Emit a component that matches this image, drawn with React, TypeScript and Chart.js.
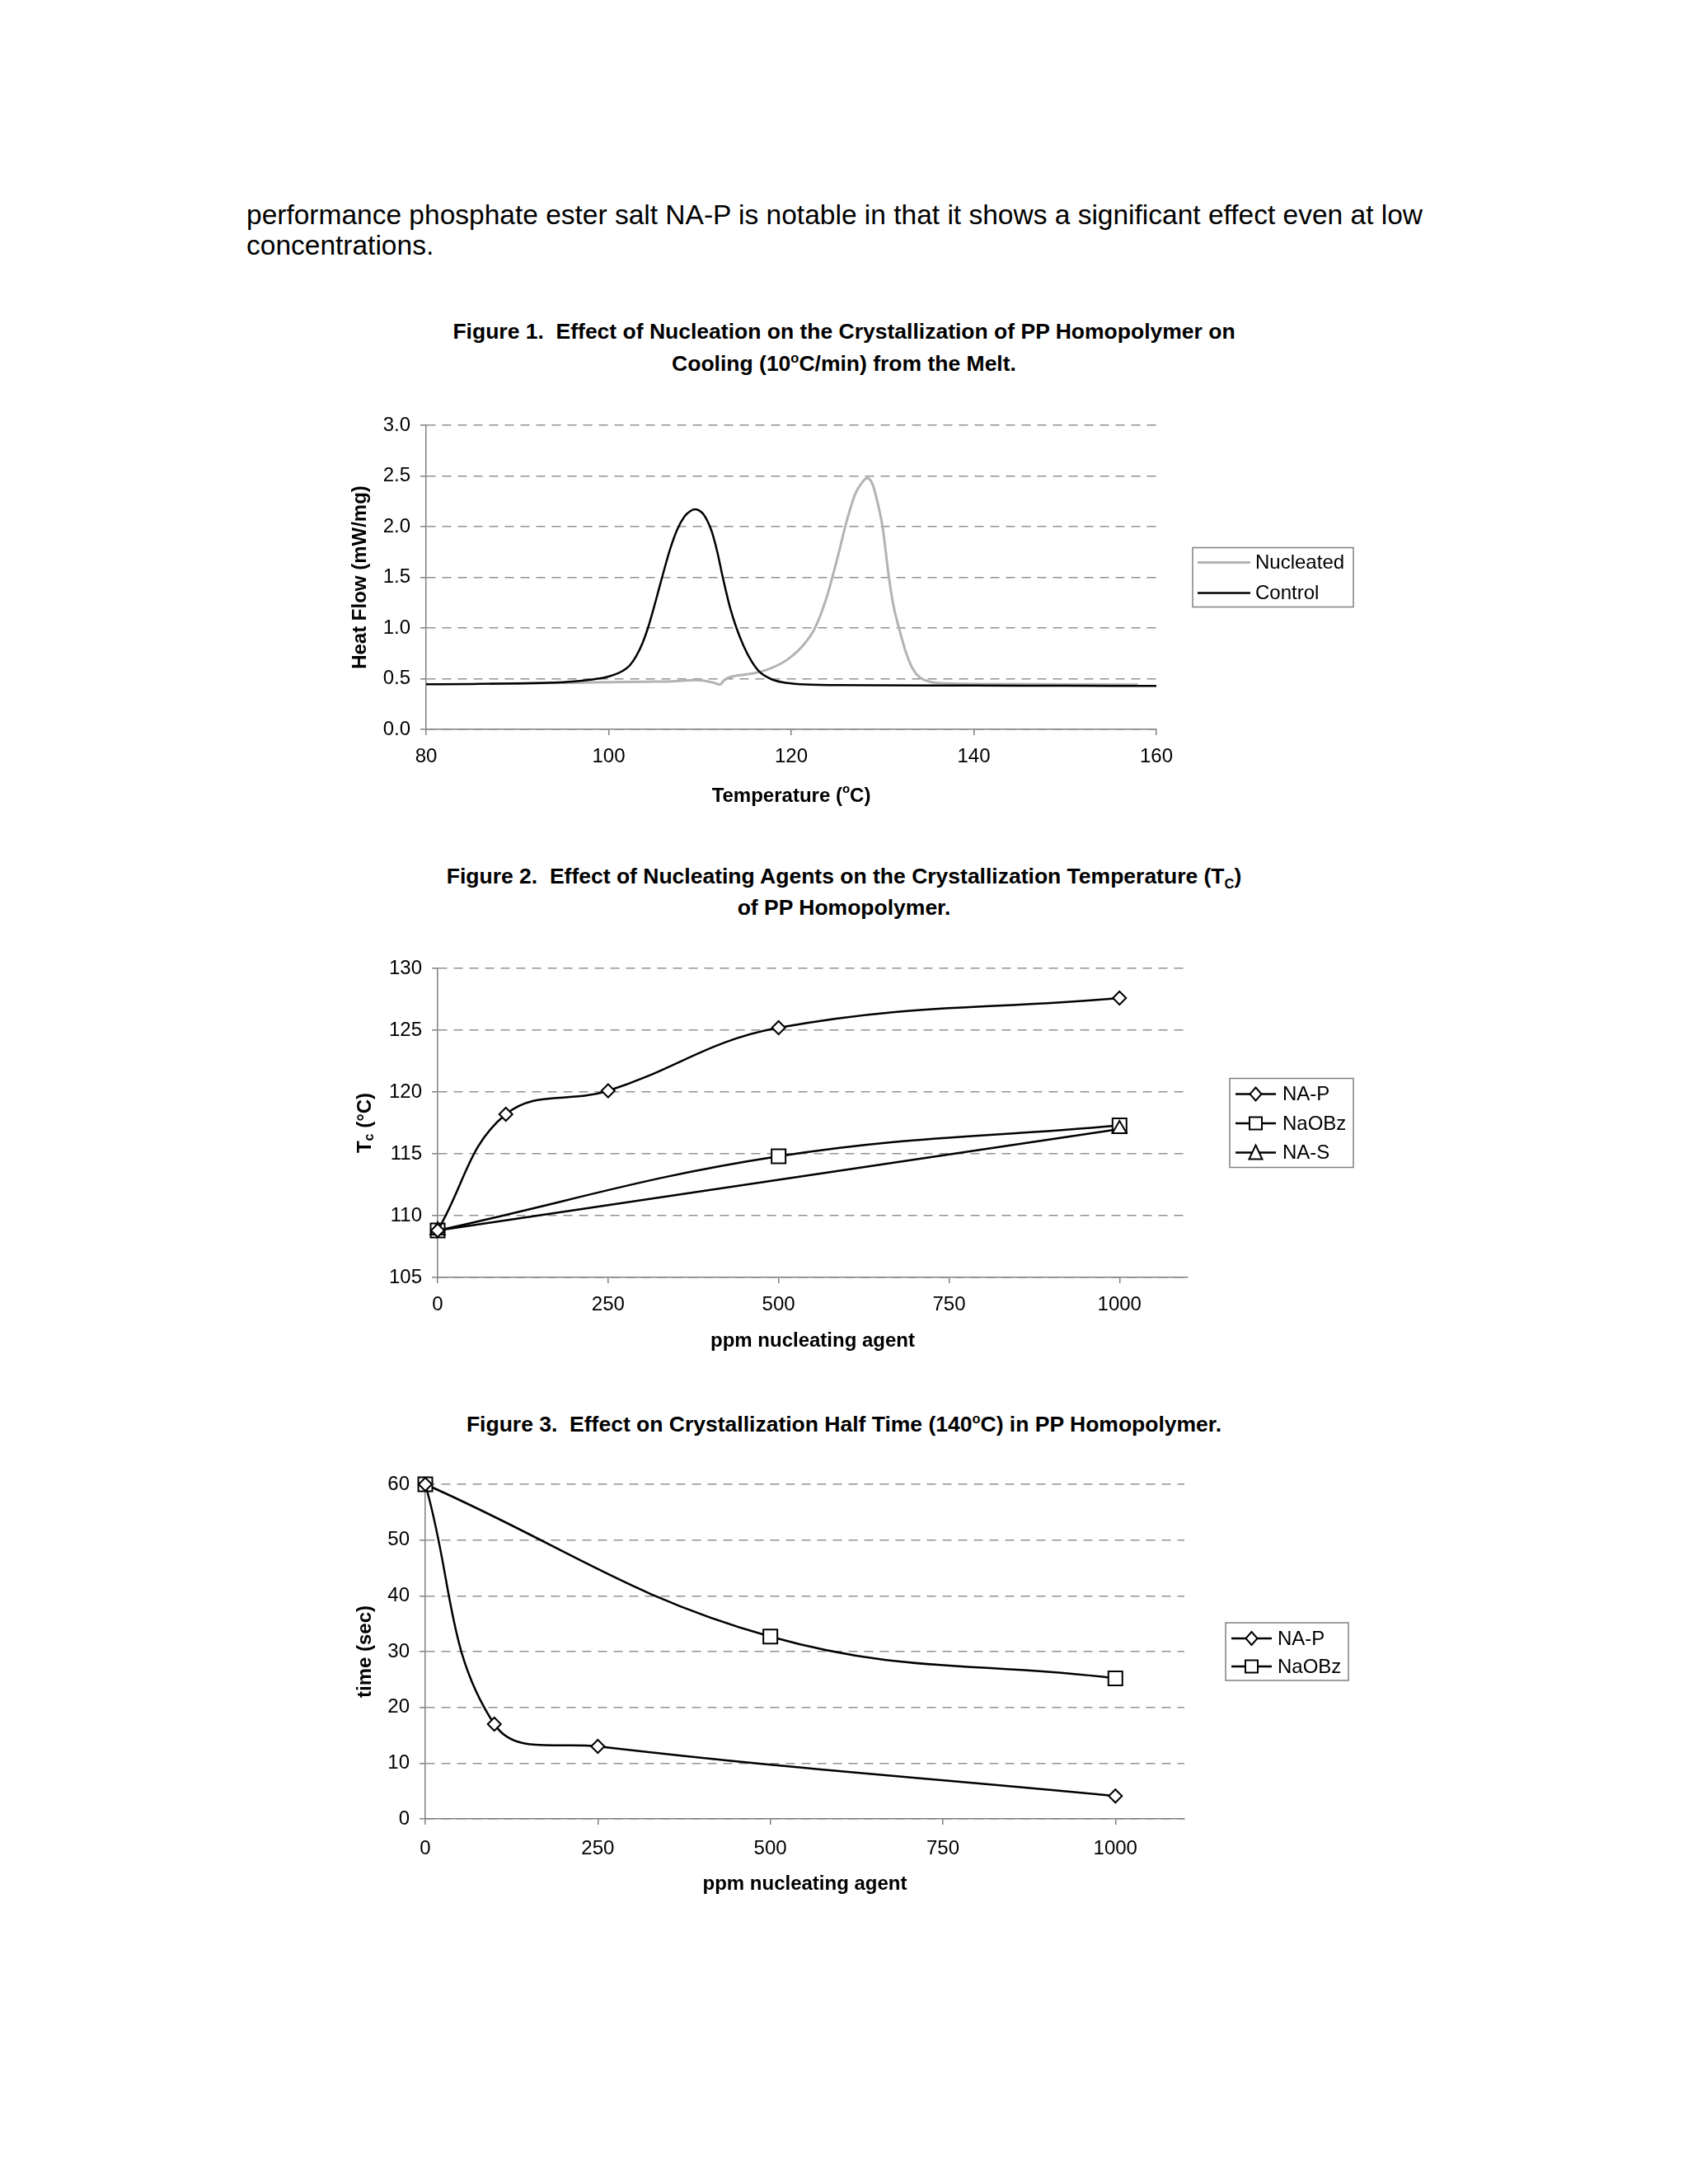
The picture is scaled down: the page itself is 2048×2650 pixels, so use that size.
import React, { useEffect, useRef } from 'react';
import { Chart, registerables } from 'chart.js';

Chart.register(...registerables);

const FONT = '"Liberation Sans", Arial, Helvetica, sans-serif';
const AXIS = '#808080';
const GRID = '#929292';

// ---------- Figure 1 : DSC cooling curves ----------
const FIG1_X_TICKS = [80, 100, 120, 140, 160];
const FIG1_Y_TICKS = [0, 0.5, 1, 1.5, 2, 2.5, 3];
const NUCLEATED_T = [87, 92, 96, 100, 104, 107, 109.3, 110.5, 111.5, 112.2, 112.6, 113.1, 114, 116, 117.7, 119.6, 121.4, 122.6, 123.8, 124.5, 125.2, 126, 127, 127.8, 128.3, 128.9, 129.5, 130, 130.7, 131.2, 131.8, 132.6, 133.3, 134, 135, 136.5, 142, 150, 158];
const NUCLEATED_HF = [0.45, 0.455, 0.46, 0.465, 0.47, 0.474, 0.485, 0.48, 0.46, 0.443, 0.48, 0.51, 0.53, 0.555, 0.6, 0.69, 0.84, 1.0, 1.28, 1.5, 1.74, 2.03, 2.32, 2.44, 2.48, 2.42, 2.22, 2.0, 1.5, 1.22, 1.0, 0.75, 0.6, 0.52, 0.475, 0.455, 0.447, 0.444, 0.441];
const CONTROL_T = [80, 85, 90, 94, 96, 98, 99.5, 100.5, 101.5, 102.3, 103, 103.7, 104.3, 105.1, 105.85, 106.7, 107.5, 108.3, 108.9, 109.4, 109.9, 110.4, 110.9, 111.3, 111.9, 112.5, 113.3, 114, 114.8, 115.6, 116.5, 117.7, 119, 121, 125, 130, 140, 150, 160];
const CONTROL_HF = [0.445, 0.448, 0.453, 0.462, 0.472, 0.49, 0.51, 0.535, 0.575, 0.63, 0.72, 0.85, 1.0, 1.25, 1.5, 1.77, 1.97, 2.1, 2.15, 2.17, 2.16, 2.12, 2.04, 1.95, 1.75, 1.5, 1.2, 1.0, 0.82, 0.68, 0.57, 0.5, 0.465, 0.445, 0.437, 0.434, 0.432, 0.43, 0.428];

// ---------- Figure 2 : Tc vs ppm ----------
const PPM_TICKS = [0, 250, 500, 750, 1000];
const FIG2_Y_TICKS = [105, 110, 115, 120, 125, 130];
const NAP_PPM_2 = [0, 100, 250, 500, 1000];
const NAP_TC = [108.8, 118.2, 120.1, 125.2, 127.6];
const NAOBZ_PPM_2 = [0, 500, 1000];
const NAOBZ_TC = [108.8, 114.8, 117.3];
const NAS_PPM = [0, 1000];
const NAS_TC = [108.8, 117.0];

// ---------- Figure 3 : half time vs ppm ----------
const FIG3_Y_TICKS = [0, 10, 20, 30, 40, 50, 60];
const NAP_PPM_3 = [0, 100, 250, 1000];
const NAP_HALF = [60, 17, 13, 4.1];
const NAOBZ_PPM_3 = [0, 500, 1000];
const NAOBZ_HALF = [60, 32.7, 25.2];

const zip = (xs: number[], ys: number[]) => xs.map((x, i) => ({ x, y: ys[i] }));

type Seg = { t: string; size: number; dy?: number };

function drawRich(ctx: CanvasRenderingContext2D, segs: Seg[], cx: number, cy: number, rotate: boolean) {
  ctx.save();
  ctx.translate(cx, cy);
  if (rotate) ctx.rotate(-Math.PI / 2);
  ctx.textBaseline = 'middle';
  ctx.textAlign = 'left';
  ctx.fillStyle = '#000';
  const widths = segs.map((s) => {
    ctx.font = `bold ${s.size}px ${FONT}`;
    return ctx.measureText(s.t).width;
  });
  const total = widths.reduce((a, b) => a + b, 0);
  let x = -total / 2;
  segs.forEach((s, i) => {
    ctx.font = `bold ${s.size}px ${FONT}`;
    ctx.fillText(s.t, x, s.dy || 0);
    x += widths[i];
  });
  ctx.restore();
}

function drawMarker(ctx: CanvasRenderingContext2D, style: string, x: number, y: number) {
  ctx.beginPath();
  if (style === 'rectRot') {
    ctx.moveTo(x, y - 8);
    ctx.lineTo(x + 7, y);
    ctx.lineTo(x, y + 8);
    ctx.lineTo(x - 7, y);
    ctx.closePath();
  } else if (style === 'rect') {
    ctx.rect(x - 7.5, y - 7.5, 15, 15);
  } else if (style === 'triangle') {
    ctx.moveTo(x, y - 9);
    ctx.lineTo(x + 8, y + 8);
    ctx.lineTo(x - 8, y + 8);
    ctx.closePath();
  } else {
    return;
  }
  ctx.fillStyle = '#fff';
  ctx.fill();
  ctx.strokeStyle = '#000';
  ctx.lineWidth = 2;
  ctx.stroke();
}

type LegendCfg = { dx: number; w: number; h: number; first: number; row: number; lineFrom: number; lineTo: number; textX: number };
type Decor = { yTitle: Seg[]; yDx: number; xTitle: Seg[]; xDy: number; legend: LegendCfg };

function decorPlugin(d: Decor) {
  return {
    id: 'decor',
    afterDraw(chart: any) {
      const ctx: CanvasRenderingContext2D = chart.ctx;
      const a = chart.chartArea;
      const midY = (a.top + a.bottom) / 2;
      const midX = (a.left + a.right) / 2;
      drawRich(ctx, d.yTitle, a.left - d.yDx, midY, true);
      drawRich(ctx, d.xTitle, midX, a.bottom + d.xDy, false);
      const L = d.legend;
      const bx = a.right + L.dx;
      const by = midY - L.h / 2;
      ctx.save();
      ctx.strokeStyle = AXIS;
      ctx.lineWidth = 1.5;
      ctx.strokeRect(bx, by, L.w, L.h);
      chart.data.datasets.forEach((ds: any, i: number) => {
        const y = by + L.first + i * L.row;
        ctx.strokeStyle = ds.borderColor;
        ctx.lineWidth = ds.borderWidth;
        ctx.beginPath();
        ctx.moveTo(bx + L.lineFrom, y);
        ctx.lineTo(bx + L.lineTo, y);
        ctx.stroke();
        if (ds.pointRadius > 0) drawMarker(ctx, ds.pointStyle, bx + (L.lineFrom + L.lineTo) / 2, y);
        ctx.fillStyle = '#000';
        ctx.font = `24px ${FONT}`;
        ctx.textBaseline = 'middle';
        ctx.textAlign = 'left';
        ctx.fillText(ds.label, bx + L.textX, y + 1);
      });
      ctx.restore();
    },
  };
}

type CfgParams = {
  datasets: any[];
  xMin: number; xMax: number; xTicks: number[];
  yMin: number; yMax: number; yTicks: number[]; yFmt: (v: number) => string;
  padTop: number; padRight: number; yWidth: number; xHeight: number; xPad: number;
  decor: Decor;
};

function makeConfig(p: CfgParams): any {
  return {
    type: 'line',
    data: { datasets: p.datasets },
    options: {
      responsive: false,
      animation: false,
      devicePixelRatio: 1,
      layout: { padding: { left: 0, top: p.padTop, right: p.padRight, bottom: 0 } },
      plugins: { legend: { display: false }, tooltip: { enabled: false }, title: { display: false } },
      elements: { line: { fill: false } },
      scales: {
        x: {
          type: 'linear',
          bounds: 'data',
          min: p.xMin,
          max: p.xMax,
          afterBuildTicks: (s: any) => { s.ticks = p.xTicks.map((v) => ({ value: v })); },
          afterFit: (s: any) => { s.height = p.xHeight; },
          grid: { drawOnChartArea: false, drawTicks: true, tickLength: 7, tickColor: AXIS, tickWidth: 1.5, color: AXIS, lineWidth: 1.5 },
          border: { display: true, color: AXIS, width: 1.5 },
          ticks: { padding: p.xPad, color: '#000', font: { family: FONT, size: 24 }, maxRotation: 0, autoSkip: false, callback: (v: any) => String(v) },
        },
        y: {
          type: 'linear',
          bounds: 'data',
          min: p.yMin,
          max: p.yMax,
          afterBuildTicks: (s: any) => { s.ticks = p.yTicks.map((v) => ({ value: v })); },
          afterFit: (s: any) => { s.width = p.yWidth; },
          grid: { color: GRID, lineWidth: 1.6, drawTicks: true, tickLength: 7, tickColor: AXIS, tickWidth: 1.5, tickBorderDash: [] },
          border: { display: true, color: AXIS, width: 1.5, dash: [11, 8] },
          ticks: { padding: 12, color: '#000', font: { family: FONT, size: 24 }, autoSkip: false, callback: (v: any) => p.yFmt(Number(v)) },
        },
      },
    },
    plugins: [decorPlugin(p.decor)],
  };
}

const markerDs = (label: string, xs: number[], ys: number[], style: string, r: number, order: number) => ({
  label,
  data: zip(xs, ys),
  borderColor: '#000',
  borderWidth: 2.5,
  tension: 0.4,
  pointStyle: style,
  pointRadius: r,
  pointHoverRadius: r,
  pointBackgroundColor: '#fff',
  pointBorderColor: '#000',
  pointBorderWidth: 2,
  clip: false,
  order,
});

const fig1Config = () =>
  makeConfig({
    datasets: [
      { label: 'Nucleated', data: zip(NUCLEATED_T, NUCLEATED_HF), borderColor: '#b3b3b3', borderWidth: 3, pointRadius: 0, cubicInterpolationMode: 'monotone', order: 1 },
      { label: 'Control', data: zip(CONTROL_T, CONTROL_HF), borderColor: '#000', borderWidth: 2.5, pointRadius: 0, cubicInterpolationMode: 'monotone', order: 0 },
    ],
    xMin: 80, xMax: 160, xTicks: FIG1_X_TICKS,
    yMin: 0, yMax: 3, yTicks: FIG1_Y_TICKS, yFmt: (v) => v.toFixed(1),
    padTop: 46, padRight: 277, yWidth: 137, xHeight: 125, xPad: 12,
    decor: {
      yTitle: [{ t: 'Heat Flow (mW/mg)', size: 24 }], yDx: 80,
      xTitle: [{ t: 'Temperature (', size: 24 }, { t: 'o', size: 15, dy: -8 }, { t: 'C)', size: 24 }], xDy: 81,
      legend: { dx: 44, w: 195, h: 72, first: 18, row: 37, lineFrom: 6, lineTo: 70, textX: 76 },
    },
  });

const fig2Config = () =>
  makeConfig({
    datasets: [
      markerDs('NA-P', NAP_PPM_2, NAP_TC, 'rectRot', 8, 0),
      markerDs('NaOBz', NAOBZ_PPM_2, NAOBZ_TC, 'rect', 12, 2),
      markerDs('NA-S', NAS_PPM, NAS_TC, 'triangle', 10, 1),
    ],
    xMin: 0, xMax: 1100, xTicks: PPM_TICKS,
    yMin: 105, yMax: 130, yTicks: FIG2_Y_TICKS, yFmt: (v) => String(v),
    padTop: 45, padRight: 239, yWidth: 151, xHeight: 140, xPad: 12,
    decor: {
      yTitle: [{ t: 'T', size: 24 }, { t: 'c', size: 16, dy: 6 }, { t: ' (°C)', size: 24 }], yDx: 88,
      xTitle: [{ t: 'ppm nucleating agent', size: 24 }], xDy: 77,
      legend: { dx: 51, w: 150, h: 108, first: 19, row: 35.5, lineFrom: 7, lineTo: 56, textX: 64 },
    },
  });

const fig3Config = () =>
  makeConfig({
    datasets: [
      markerDs('NA-P', NAP_PPM_3, NAP_HALF, 'rectRot', 8, 0),
      markerDs('NaOBz', NAOBZ_PPM_3, NAOBZ_HALF, 'rect', 12, 1),
    ],
    xMin: 0, xMax: 1100, xTicks: PPM_TICKS,
    yMin: 0, yMax: 60, yTicks: FIG3_Y_TICKS, yFmt: (v) => String(v),
    padTop: 41, padRight: 243, yWidth: 136, xHeight: 133, xPad: 15,
    decor: {
      yTitle: [{ t: 'time (sec)', size: 24 }], yDx: 73,
      xTitle: [{ t: 'ppm nucleating agent', size: 24 }], xDy: 79,
      legend: { dx: 50, w: 149, h: 70, first: 19, row: 34, lineFrom: 7, lineTo: 56, textX: 63 },
    },
  });

function ChartBox(props: { left: number; top: number; width: number; height: number; make: () => any }) {
  const ref = useRef<HTMLCanvasElement>(null);
  useEffect(() => {
    const chart = new Chart(ref.current as HTMLCanvasElement, props.make());
    return () => chart.destroy();
  }, []);
  return (
    <div style={{ position: 'absolute', left: props.left, top: props.top, width: props.width, height: props.height }}>
      <canvas ref={ref} width={props.width} height={props.height} style={{ display: 'block', width: props.width, height: props.height }} />
    </div>
  );
}

const sup: React.CSSProperties = { fontSize: '62%', verticalAlign: 'super', lineHeight: 0 };
const sub: React.CSSProperties = { fontSize: '62%', verticalAlign: 'sub', lineHeight: 0 };

export default function App() {
  const titleStyle = (top: number, lh: number): React.CSSProperties => ({
    position: 'absolute', left: 0, top, width: 2048, textAlign: 'center', fontFamily: FONT,
    fontWeight: 'bold', fontSize: 26.5, lineHeight: `${lh}px`, color: '#000', whiteSpace: 'nowrap',
  });
  return (
    <div style={{ position: 'absolute', left: 0, top: 0, width: 2048, height: 2650, background: '#fff', overflow: 'hidden' }}>
      <div style={{ position: 'absolute', left: 299, top: 242, fontFamily: FONT, fontSize: 33.5, lineHeight: '37px', color: '#000', whiteSpace: 'nowrap' }}>
        performance phosphate ester salt NA-P is notable in that it shows a significant effect even at low
        <br />
        concentrations.
      </div>

      <div style={titleStyle(383, 39)}>
        Figure 1.&nbsp; Effect of Nucleation on the Crystallization of PP Homopolymer on
        <br />
        Cooling (10<span style={sup}>o</span>C/min) from the Melt.
      </div>
      <ChartBox left={380} top={470} width={1300} height={540} make={fig1Config} />

      <div style={titleStyle(1044, 38)}>
        Figure 2.&nbsp; Effect of Nucleating Agents on the Crystallization Temperature (T<span style={sub}>C</span>)
        <br />
        of PP Homopolymer.
      </div>
      <ChartBox left={380} top={1130} width={1300} height={560} make={fig2Config} />

      <div style={titleStyle(1710, 36)}>
        Figure 3.&nbsp; Effect on Crystallization Half Time (140<span style={sup}>o</span>C) in PP Homopolymer.
      </div>
      <ChartBox left={380} top={1760} width={1300} height={580} make={fig3Config} />
    </div>
  );
}
